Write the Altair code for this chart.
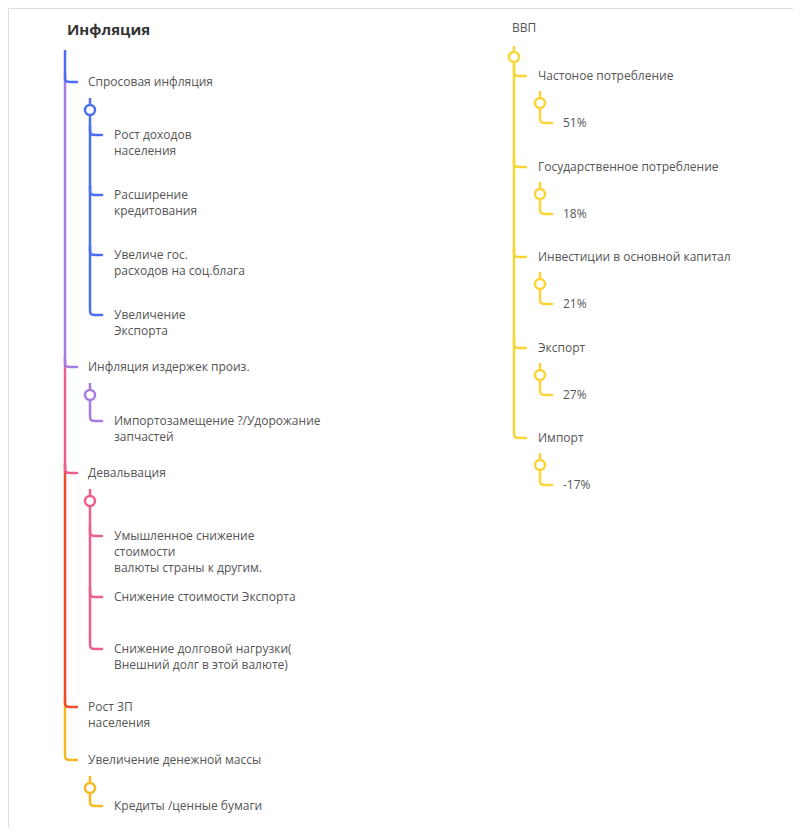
import altair as alt
import pandas as pd

# Left tree: "Инфляция"
main_labels = [
    "Спросовая инфляция",
    "Инфляция издержек произ.",
    "Девальвация",
    "Рост ЗП\nнаселения",
    "Увеличение денежной массы",
]
main_y = [82, 367, 473, 707, 760]
main_colors = ["#4c6ef2", "#a67ce4", "#ec5e8e", "#f04b2c", "#f5b820"]

sub_labels = [
    ["Рост доходов\n населения", "Расширение\nкредитования",
     "Увеличе гос.\nрасходов на соц.блага", "Увеличение\nЭкспорта"],
    ["Импортозамещение ?/Удорожание\nзапчастей"],
    ["Умышленное снижение\nстоимости\nвалюты страны к другим.",
     "Снижение стоимости Экспорта",
     "Снижение долговой нагрузки(\nВнешний долг в этой валюте)"],
    [],
    ["Кредиты /ценные бумаги"],
]
sub_y = [[135, 195, 255, 315], [421], [536, 597, 649], [], [806]]

# Right tree: "ВВП"
gdp_labels = ["Частоное потребление", "Государственное потребление",
              "Инвестиции в основной капитал", "Экспорт", "Импорт"]
gdp_y = [76, 167, 257, 348, 438]
gdp_shares = ["51%", "18%", "21%", "27%", "-17%"]
gdp_color = "#fbd437"

X0, X1, X2 = 65, 90, 114
R0, R1, R2 = 514, 540, 563
GAP = 28

rules, elbows, circles, texts = [], [], [], []


def elbow(x, y, color, key):
    for i, (px, py) in enumerate([(x, y - 9), (x, y - 2), (x + 1, y), (x + 12, y)]):
        elbows.append({"x": px, "y": py, "c": color, "k": key, "o": i})


def rule(x, y1, y2, color):
    rules.append({"x": x, "y": y1, "y2": y2, "c": color})


prev = 50
for i, (lab, y, col) in enumerate(zip(main_labels, main_y, main_colors)):
    rule(X0, prev, y - 9, col)
    elbow(X0, y, col, f"m{i}")
    texts.append({"x": X0 + 23, "y": y, "t": lab})
    prev = y - 9
    if sub_labels[i]:
        cy = y + GAP
        circles.append({"x": X1, "y": cy, "c": col})
        rule(X1, cy - 12, cy - 5, col)
        p = cy + 5
        for j, (sl, sy) in enumerate(zip(sub_labels[i], sub_y[i])):
            rule(X1, p, sy - 9, col)
            elbow(X1, sy, col, f"s{i}_{j}")
            texts.append({"x": X2, "y": sy, "t": sl})
            p = sy - 9

texts.append({"x": 512, "y": 28, "t": "ВВП"})
circles.append({"x": R0, "y": 57, "c": gdp_color})
rule(R0, 46, 52, gdp_color)
prev = 62
for i, (lab, y, sh) in enumerate(zip(gdp_labels, gdp_y, gdp_shares)):
    rule(R0, prev, y - 9, gdp_color)
    elbow(R0, y, gdp_color, f"g{i}")
    texts.append({"x": R0 + 24, "y": y, "t": lab})
    prev = y - 9
    cy = y + 27
    circles.append({"x": R1, "y": cy, "c": gdp_color})
    rule(R1, cy - 12, cy - 5, gdp_color)
    rule(R1, cy + 5, y + 47 - 9, gdp_color)
    elbow(R1, y + 47, gdp_color, f"gs{i}")
    texts.append({"x": R2, "y": y + 47, "t": sh})

xs = alt.Scale(domain=[8, 793])
ys = alt.Scale(domain=[8, 827], reverse=True)
X = lambda: alt.X("x:Q", scale=xs, axis=None)
Y = lambda: alt.Y("y:Q", scale=ys, axis=None)

rule_layer = alt.Chart(pd.DataFrame(rules)).mark_rule(strokeWidth=2.5).encode(
    x=X(), y=Y(), y2="y2:Q", color=alt.Color("c:N", scale=None))
elbow_layer = alt.Chart(pd.DataFrame(elbows)).mark_line(
    strokeWidth=2.5, interpolate="basis", strokeCap="round").encode(
    x=X(), y=Y(), detail="k:N", order="o:Q", color=alt.Color("c:N", scale=None))
circle_layer = alt.Chart(pd.DataFrame(circles)).mark_point(
    shape="circle", filled=True, fill="white", size=100, strokeWidth=2.5, opacity=1).encode(
    x=X(), y=Y(), stroke=alt.Stroke("c:N", scale=None))
text_layer = alt.Chart(pd.DataFrame(texts)).mark_text(
    align="left", baseline="middle", lineBreak="\n", lineHeight=16,
    font="Open Sans", fontSize=12, color="#555555").encode(
    x=X(), y=Y(), text="t:N")
title_layer = alt.Chart(pd.DataFrame({"x": [67], "y": [30], "t": ["Инфляция"]})).mark_text(
    align="left", baseline="middle", font="Open Sans", fontSize=15,
    fontWeight="bold", color="#333333").encode(x=X(), y=Y(), text="t:N")

chart = (rule_layer + elbow_layer + circle_layer + text_layer + title_layer).properties(
    width=785, height=819, padding=0, autosize="none"
).configure_view(stroke=None).configure(background="white")

chart.save("out.html", embed_options={"renderer": "svg", "actions": False})
